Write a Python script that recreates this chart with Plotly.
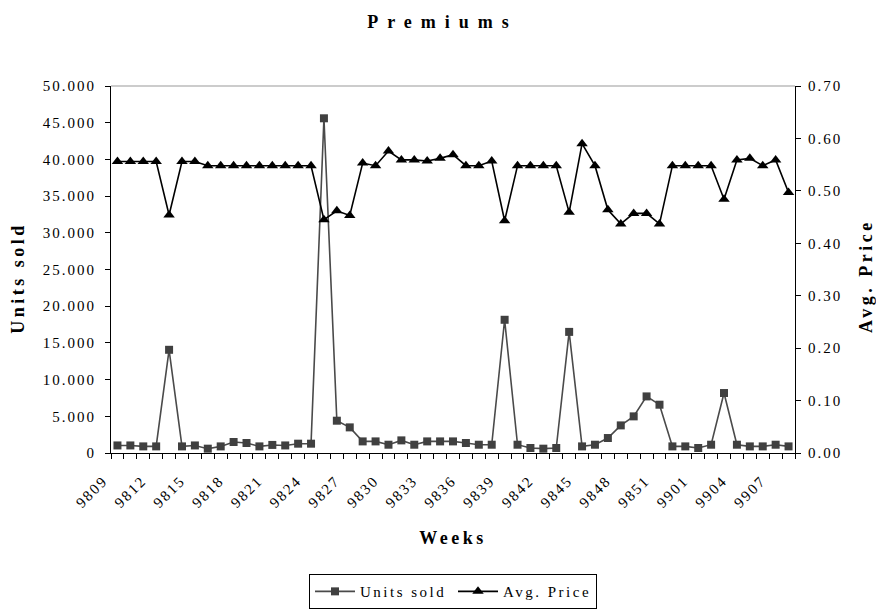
import plotly.graph_objects as go

# weekly data (1998 has a week 53)
weeks = ["9809", "9810", "9811", "9812", "9813", "9814", "9815", "9816", "9817", "9818",
         "9819", "9820", "9821", "9822", "9823", "9824", "9825", "9826", "9827", "9828",
         "9829", "9830", "9831", "9832", "9833", "9834", "9835", "9836", "9837", "9838",
         "9839", "9840", "9841", "9842", "9843", "9844", "9845", "9846", "9847", "9848",
         "9849", "9850", "9851", "9852", "9853", "9901", "9902", "9903", "9904", "9905",
         "9906", "9907", "9908"]

units_sold = [1030, 1030, 900, 900, 14060, 900, 1030, 590, 900, 1500,
              1360, 900, 1100, 1030, 1270, 1270, 45600, 4400, 3490, 1580,
              1580, 1130, 1720, 1130, 1580, 1580, 1580, 1360, 1130, 1130,
              18150, 1130, 680, 590, 680, 16500, 900, 1130, 2040, 3760,
              4990, 7710, 6580, 900, 900, 680, 1130, 8170, 1130, 900,
              900, 1130, 900]

avg_price = [0.556, 0.556, 0.556, 0.556, 0.454, 0.556, 0.556, 0.548, 0.548, 0.548,
             0.548, 0.548, 0.548, 0.548, 0.548, 0.548, 0.445, 0.462, 0.453, 0.553,
             0.548, 0.576, 0.559, 0.559, 0.557, 0.562, 0.569, 0.548, 0.548, 0.557,
             0.443, 0.548, 0.548, 0.548, 0.548, 0.459, 0.590, 0.548, 0.464, 0.437,
             0.457, 0.457, 0.437, 0.548, 0.548, 0.548, 0.548, 0.484, 0.559, 0.562,
             0.548, 0.559, 0.497]

units_ticks = [0, 5000, 10000, 15000, 20000, 25000, 30000, 35000, 40000, 45000, 50000]

FONT = "Liberation Serif, Times New Roman, serif"

# only every third week gets a label
week_labels = [w if i % 3 == 0 else "" for i, w in enumerate(weeks)]
units_labels = [f"{v:,}".replace(",", ".") for v in units_ticks]

fig = go.Figure()
fig.add_trace(go.Scatter(
    x=weeks, y=units_sold, name="Units sold", mode="lines+markers",
    line=dict(color="#4a4a4a", width=1.6),
    marker=dict(symbol="square", size=8, color="#404040"),
))
fig.add_trace(go.Scatter(
    x=weeks, y=avg_price, name="Avg. Price", mode="lines+markers", yaxis="y2",
    line=dict(color="black", width=1.6),
    marker=dict(symbol="triangle-up", size=10, color="black"),
))

axis_common = dict(ticks="outside", ticklen=5, tickcolor="black", showline=True,
                   linecolor="black", linewidth=1, showgrid=False, zeroline=False)

fig.update_layout(
    width=885, height=609,
    margin=dict(l=111, r=90, t=86, b=156, autoexpand=False),
    paper_bgcolor="white", plot_bgcolor="white",
    font=dict(family=FONT, size=15, color="black"),
    showlegend=True,
    legend=dict(orientation="h", x=0.5, xanchor="center", y=-0.33, yanchor="top",
                bordercolor="black", borderwidth=1, font=dict(size=15),
                itemwidth=40, entrywidth=88, tracegroupgap=0),
    title=dict(text="<b>Premiums</b>", x=0.5, xref="container", y=1 - 22 / 609,
               yanchor="middle", font=dict(size=18)),
    xaxis=dict(type="category", range=[-0.5, len(weeks) - 0.5],
               tickmode="array", tickvals=weeks, ticktext=week_labels,
               tickson="boundaries", tickangle=-45, ticklabelshift=-14,
               ticklabelstandoff=12, **axis_common),
    yaxis=dict(range=[0, 50000], tickmode="array", tickvals=units_ticks,
               ticktext=units_labels, ticklabelstandoff=6, **axis_common),
    yaxis2=dict(range=[0, 0.7], dtick=0.1, tickformat=".2f", overlaying="y",
                side="right", anchor="x", ticklabelstandoff=4, **axis_common),
    shapes=[dict(type="line", xref="paper", yref="paper", x0=0, x1=1, y0=1, y1=1,
                 line=dict(color="#999999", width=1), layer="below")],
    annotations=[
        dict(text="<b>Weeks</b>", xref="paper", yref="paper", x=0.5,
             y=-85 / 367, yanchor="middle", showarrow=False, width=130,
             font=dict(size=18)),
        dict(text="<b>Units sold</b>", xref="paper", yref="paper", x=-93 / 684,
             y=0.477, textangle=-90, xanchor="center", showarrow=False, width=160,
             font=dict(size=18)),
        dict(text="<b>Avg. Price</b>", xref="paper", yref="paper", x=755 / 684,
             y=0.482, textangle=-90, xanchor="center", showarrow=False, width=160,
             font=dict(size=18)),
    ],
)

# the original uses wide letter spacing on all text; also drop the page margin
spacing_css = """
document.body.style.margin = '0';
var s = document.createElement('style');
s.innerHTML = 'body{margin:0}' +
  '.gtitle{letter-spacing:9px}' +
  '.annotation-text{letter-spacing:3.5px}' +
  '.xtick text,.ytick text,.y2tick text{letter-spacing:2px}' +
  '.legendtext{letter-spacing:2.5px}';
document.head.appendChild(s);
"""

fig.write_html("out.html", post_script=spacing_css, config={"displayModeBar": False})
